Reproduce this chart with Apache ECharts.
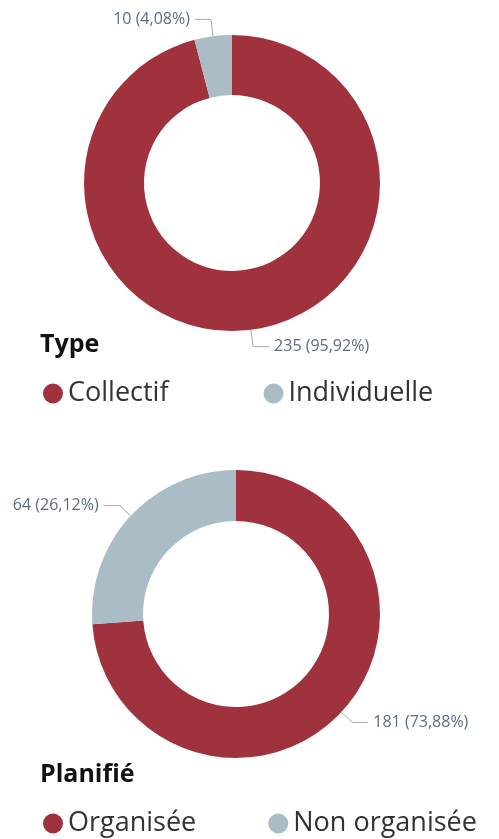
<!DOCTYPE html>
<html>
<head>
<meta charset="utf-8">
<script src="https://cdn.jsdelivr.net/npm/echarts@6/dist/echarts.min.js"></script>
<style>
  html, body { margin: 0; padding: 0; background: #fff; }
  #chart { width: 499px; height: 839px; }
</style>
</head>
<body>
<div id="chart"></div>
<script>
// données
const typeNames = ['Collectif', 'Individuelle'];
const typeValues = [235, 10];
const planNames = ['Organisée', 'Non organisée'];
const planValues = [181, 64];
const colors = ['#9f323c', '#aabdc7'];

const FONT = '"Open Sans", "Noto Sans", sans-serif';

const toData = (names, values) => names.map((n, i) => ({ name: n, value: values[i] }));

// libellé "235 (95,92%)"
const labelFmt = p => p.value + ' (' + p.percent.toFixed(2).replace('.', ',') + '%)';

const pieSeries = (names, values, center, radius, len) => ({
  type: 'pie',
  center,
  radius,
  startAngle: 90,
  clockwise: true,
  avoidLabelOverlap: false,
  data: toData(names, values),
  label: {
    show: true,
    formatter: labelFmt,
    color: '#5a6c8a',
    fontSize: 16,
    fontFamily: FONT
  },
  labelLine: {
    show: true,
    length: len,
    length2: 16,
    lineStyle: { color: '#a9a9a9', width: 1 }
  },
  emphasis: { disabled: true }
});

const legend = (names, top, gap) => ({
  data: names,
  left: 38,
  top,
  icon: 'circle',
  itemWidth: 20,
  itemHeight: 20,
  itemGap: gap,
  textStyle: { fontSize: 27, color: '#333', fontFamily: FONT }
});

const titleStyle = { fontSize: 25, fontWeight: 'bold', color: '#111', fontFamily: FONT };

const chart = echarts.init(document.getElementById('chart'));
chart.setOption({
  color: colors,
  animation: false,
  title: [
    { text: 'Type', left: 35, top: 327, textStyle: titleStyle },
    { text: 'Planifié', left: 35, top: 757, textStyle: titleStyle }
  ],
  legend: [legend(typeNames, 375, 95), legend(planNames, 805, 72)],
  series: [
    pieSeries(typeNames, typeValues, [232, 183], [88, 148], 17),
    pieSeries(planNames, planValues, [236, 614], [93, 144], 15)
  ]
});
</script>
</body>
</html>
